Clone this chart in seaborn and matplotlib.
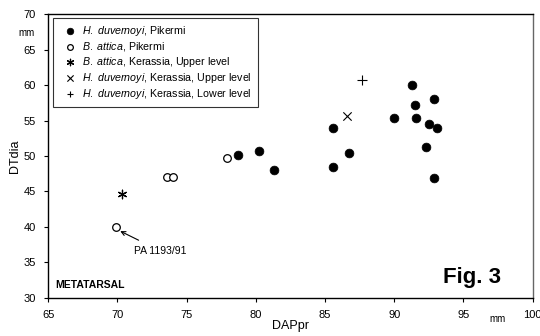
import numpy as np
import pandas as pd
import matplotlib as mpl
mpl.use("Agg")
import matplotlib.pyplot as plt
import seaborn as sns

sns.set_style("ticks")
plt.rcParams['font.family'] = ['Liberation Sans', 'DejaVu Sans']
plt.rcParams['mathtext.fontset'] = 'custom'
plt.rcParams['mathtext.it'] = 'Liberation Sans:italic'
plt.rcParams['mathtext.rm'] = 'Liberation Sans'
plt.rcParams['text.color'] = 'black'
plt.rcParams['axes.labelcolor'] = 'black'
plt.rcParams['xtick.color'] = 'black'
plt.rcParams['ytick.color'] = 'black'

# H. duvernoyi, Pikermi
hd_pik_x = [78.7, 80.2, 81.3, 85.6, 86.7, 85.6, 90.0, 91.3, 91.5, 91.6, 92.5, 92.9, 93.1, 92.3, 92.9]
hd_pik_y = [50.2, 50.7, 48.1, 54.0, 50.4, 48.4, 55.4, 60.0, 57.2, 55.4, 54.5, 58.0, 54.0, 51.3, 46.9]
# B. attica, Pikermi
ba_pik_x = [69.9, 73.6, 74.0, 77.9]
ba_pik_y = [40.0, 47.0, 47.0, 49.7]
# B. attica, Kerassia, Upper level
ba_ker_x = [70.3]
ba_ker_y = [44.6]
# H. duvernoyi, Kerassia, Upper level
hd_keru_x = [86.6]
hd_keru_y = [55.6]
# H. duvernoyi, Kerassia, Lower level
hd_kerl_x = [87.7]
hd_kerl_y = [60.8]

labels = [r"$\mathit{H.\ duvernoyi}$, Pikermi",
          r"$\mathit{B.\ attica}$, Pikermi",
          r"$\mathit{B.\ attica}$, Kerassia, Upper level",
          r"$\mathit{H.\ duvernoyi}$, Kerassia, Upper level",
          r"$\mathit{H.\ duvernoyi}$, Kerassia, Lower level"]

fig = plt.figure(figsize=(5.4, 3.36), dpi=100)
ax = fig.add_axes([0.0894, 0.114, 0.897, 0.843])

sns.scatterplot(x=hd_pik_x, y=hd_pik_y, ax=ax, marker='o', s=40, color='black',
                edgecolor='black', linewidth=0.5, label=labels[0])
sns.scatterplot(x=ba_pik_x, y=ba_pik_y, ax=ax, marker='o', s=30, facecolor='white',
                edgecolor='black', linewidth=0.9, label=labels[1])
sns.scatterplot(x=ba_ker_x, y=ba_ker_y, ax=ax, marker=(6, 2, 0), s=38, color='black',
                linewidth=0.9, label=labels[2])
sns.scatterplot(x=hd_keru_x, y=hd_keru_y, ax=ax, marker='x', s=36, color='black',
                linewidth=0.8, label=labels[3])
sns.scatterplot(x=hd_kerl_x, y=hd_kerl_y, ax=ax, marker='+', s=42, color='black',
                linewidth=0.8, label=labels[4])

ax.set_xlim(65, 100)
ax.set_ylim(30, 70)
ax.set_xticks(np.arange(65, 101, 5))
ax.set_yticks(np.arange(30, 71, 5))
ax.tick_params(labelsize=8, length=3, width=0.8, color='black', labelcolor='black', pad=6)
ax.set_xlabel("DAPpr", fontsize=9, labelpad=0)
ax.set_ylabel("DTdia", fontsize=9, labelpad=2)
for side in ['left', 'bottom', 'top']:
    ax.spines[side].set_color('black')
    ax.spines[side].set_linewidth(1.0)
ax.spines['right'].set_color('#666666')
ax.spines['right'].set_linewidth(1.0)

leg = ax.legend(loc='upper left', bbox_to_anchor=(0.01, 0.988), fontsize=7.7, frameon=True,
                fancybox=False, edgecolor='black', borderpad=0.55, labelspacing=0.2,
                handletextpad=0.15, handlelength=2.0, borderaxespad=0, markerscale=0.75)
leg.get_frame().set_linewidth(0.8)
for t in leg.get_texts():
    t.set_color('black')

ax.annotate("PA 1193/91", xy=(70.2, 39.4), xytext=(71.2, 36.6), fontsize=7.5,
            va='center', ha='left',
            arrowprops=dict(arrowstyle='->', color='black', lw=0.8, shrinkA=4, shrinkB=0))
ax.text(0.014, 0.035, "METATARSAL", transform=ax.transAxes, fontsize=7.5, fontweight='bold')
ax.text(0.9346, 0.052, "Fig. 3", transform=ax.transAxes, fontsize=16, fontweight='bold',
        ha='right', va='baseline')
fig.text(18 / 540, 1 - 33 / 336, "mm", fontsize=7, va='center', ha='left')
fig.text(498 / 540, 1 - 319 / 336, "mm", fontsize=7, va='center', ha='center')

fig.savefig("out.png", dpi=100)
